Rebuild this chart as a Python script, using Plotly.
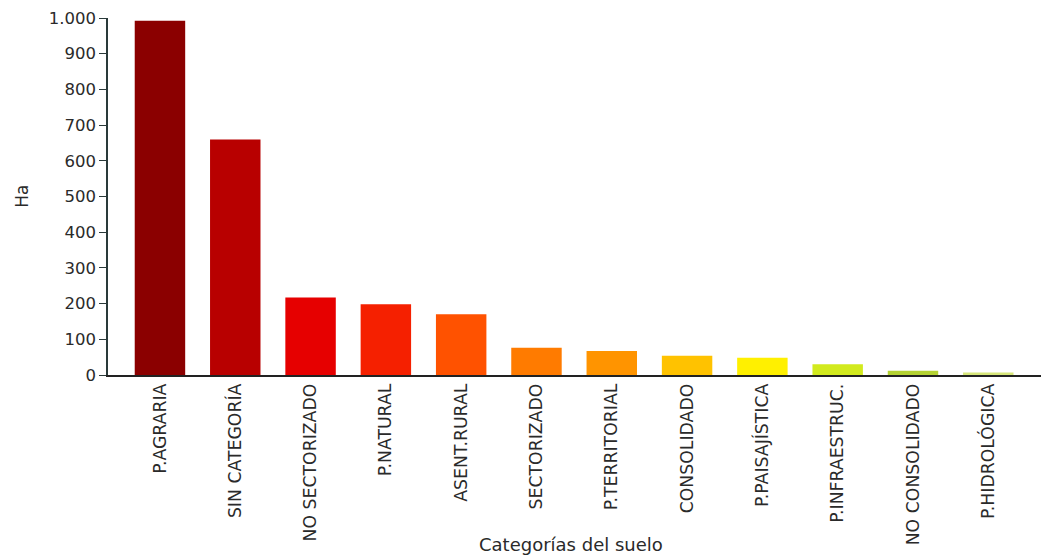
import plotly.graph_objects as go

# Superficie por categoría de suelo (hectáreas)
categorias = [
    "P.AGRARIA", "SIN CATEGORÍA", "NO SECTORIZADO", "P.NATURAL", "ASENT.RURAL",
    "SECTORIZADO", "P.TERRITORIAL", "CONSOLIDADO", "P.PAISAJÍSTICA",
    "P.INFRAESTRUC.", "NO CONSOLIDADO", "P.HIDROLÓGICA",
]
hectareas = [992, 660, 217, 198, 170, 76, 67, 54, 48, 30, 12, 7]
colores = [
    "#8b0000", "#b80000", "#e60000", "#f52000", "#ff5200", "#ff7b00",
    "#ff9400", "#ffc200", "#fff000", "#d2ea1e", "#b4d232", "#d6e67a",
]
y_ticks = [0, 100, 200, 300, 400, 500, 600, 700, 800, 900, 1000]

font_family = "DejaVu Sans, Verdana, sans-serif"
text_color = "#2a2a2a"

fig = go.Figure(
    go.Bar(
        x=categorias,
        y=hectareas,
        marker=dict(color=colores, line=dict(width=0)),
        width=0.67,
    )
)

fig.update_layout(
    width=1043,
    height=559,
    margin=dict(l=108, r=2, t=18, b=184),
    paper_bgcolor="white",
    plot_bgcolor="white",
    separators=",.",
    showlegend=False,
    font=dict(family=font_family, size=15, color=text_color),
    xaxis=dict(
        range=[-0.69, 11.7],
        showline=True,
        linecolor="#222222",
        linewidth=1.5,
        ticks="",
        tickangle=-90,
        tickfont=dict(size=17.3, color=text_color),
        showgrid=False,
        automargin=False,
    ),
    yaxis=dict(
        range=[0, 1000],
        showline=True,
        linecolor="#2a3a3a",
        linewidth=1.5,
        ticks="outside",
        ticklen=7,
        tickcolor="#2a3a3a",
        tickvals=y_ticks,
        tickformat=",d",
        tickfont=dict(size=16.5, color=text_color),
        showgrid=False,
        zeroline=False,
        automargin=False,
    ),
    annotations=[
        dict(
            text="Categorías del suelo",
            xref="paper", yref="paper",
            x=0.496, y=-0.476,
            xanchor="center", yanchor="middle",
            showarrow=False,
            font=dict(size=18, color=text_color),
        ),
        dict(
            text="Ha",
            xref="paper", yref="paper",
            x=-0.093, y=0.5,
            xanchor="center", yanchor="middle",
            textangle=-90,
            showarrow=False,
            font=dict(size=17, color=text_color),
        ),
    ],
)

fig.write_html("out.html")
